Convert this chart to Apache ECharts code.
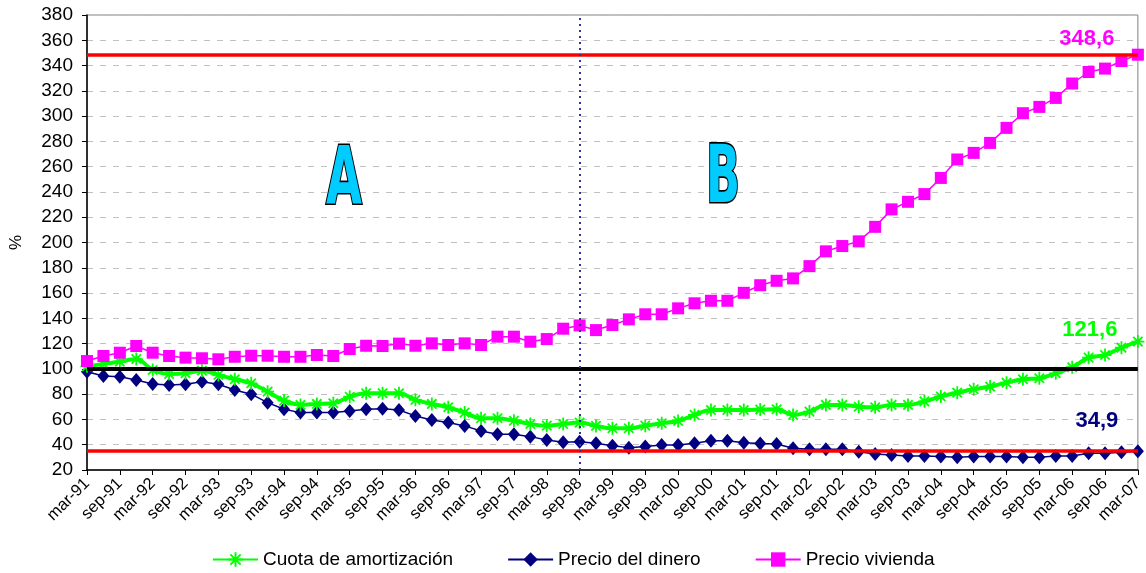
<!DOCTYPE html>
<html>
<head>
<meta charset="utf-8">
<script src="https://cdn.jsdelivr.net/npm/echarts@6/dist/echarts.min.js"></script>
<style>
  html, body { margin: 0; padding: 0; background: #fff; }
  #chart { width: 1146px; height: 573px; }
</style>
</head>
<body>
<div id="chart"></div>
<script>
// Quarterly index values, mar-91 = base
const categories = [
  'mar-91','jun-91','sep-91','dic-91','mar-92','jun-92','sep-92','dic-92',
  'mar-93','jun-93','sep-93','dic-93','mar-94','jun-94','sep-94','dic-94',
  'mar-95','jun-95','sep-95','dic-95','mar-96','jun-96','sep-96','dic-96',
  'mar-97','jun-97','sep-97','dic-97','mar-98','jun-98','sep-98','dic-98',
  'mar-99','jun-99','sep-99','dic-99','mar-00','jun-00','sep-00','dic-00',
  'mar-01','jun-01','sep-01','dic-01','mar-02','jun-02','sep-02','dic-02',
  'mar-03','jun-03','sep-03','dic-03','mar-04','jun-04','sep-04','dic-04',
  'mar-05','jun-05','sep-05','dic-05','mar-06','jun-06','sep-06','dic-06',
  'mar-07'
];

const cuotaAmortizacion = [
  102, 103.9, 105.7, 107.8, 99.1, 96, 96.5, 98.6,
  95.2, 91.8, 88.6, 82, 74.9, 71.5, 72.3, 72.8,
  78, 80.7, 80.7, 80.7, 75.5, 72.3, 69.6, 65.4,
  60.9, 60.9, 59, 56.4, 55.1, 56.4, 57.5, 54.9,
  53, 53, 55.1, 57, 58.8, 63.6, 67.5, 67.5,
  67.5, 67.8, 68.1, 63.6, 66.2, 71.5, 71.5, 70.1,
  69.6, 71.5, 71.5, 74.3, 78.2, 81.2, 83.9, 86,
  89.1, 91.8, 92.6, 96.5, 101.3, 108.9, 111, 116.8,
  121.6
];

const precioDinero = [
  97.8, 94.4, 93.8, 91.2, 88.1, 87.3, 87.8, 89.9,
  87.8, 83.3, 80, 73.3, 68.1, 65.4, 65.4, 65.4,
  66.7, 68.1, 68.5, 67.5, 62.8, 59.6, 57.5, 54.9,
  50.9, 48.3, 48.3, 46.4, 43.8, 42, 42.4, 41.2,
  39.1, 37.7, 38.5, 39.8, 39.8, 41.2, 43.2, 43.2,
  41.6, 40.9, 40.5, 37.2, 36.4, 36.4, 36.4, 34.5,
  32.7, 31.9, 31.1, 31.1, 30.6, 30.1, 30.6, 30.6,
  30.6, 30.1, 30.1, 31.1, 31.1, 33.3, 33.3, 34.1,
  34.9
];

const precioVivienda = [
  106.2, 110.2, 112.8, 118.1, 112.8, 110.2, 108.9, 108.4,
  107.6, 109.6, 110.4, 110.4, 109.6, 109.6, 111, 110.2,
  115.7, 118.3, 118.1, 120, 118.3, 120.2, 118.9, 120.2,
  118.9, 125.5, 125.5, 121.5, 123.6, 131.8, 134.4, 130.7,
  134.7, 139.2, 143.2, 143.2, 147.9, 151.9, 153.9, 153.9,
  160.2, 166.2, 169.7, 171.6, 181.3, 193, 197.2, 200.9,
  212.4, 226.2, 232.2, 238.3, 251.1, 265.7, 270.9, 278.8,
  290.7, 302.3, 307.3, 314.4, 325.8, 334.9, 337.6, 343.6,
  348.6
];

const seriesNames = ['Cuota de amortización', 'Precio del dinero', 'Precio vivienda'];
const yTicks = { min: 20, max: 380, interval: 20 };
const baseLevel = 100;
const periodDivider = 'sep-98';
const periodLetters = ['A', 'B'];

const GREEN = '#00FF00';
const NAVY = '#000080';
const MAGENTA = '#FF00FF';

// asterisk marker: vertical, horizontal and two diagonal strokes
const starPath = 'path://M0,-6L0,6M-6,0L6,0M-4.3,-4.3L4.3,4.3M-4.3,4.3L4.3,-4.3';

const fmtComma = v => String(v).replace('.', ',');

function lastLabel(color, offset) {
  return {
    show: true,
    position: 'inside',
    offset: offset,
    formatter: p => fmtComma(p.value),
    color: color,
    fontFamily: 'Liberation Sans, Arial, sans-serif',
    fontWeight: 'bold',
    fontSize: 22
  };
}

function withLastLabel(values, color, offset) {
  return values.map((v, i) => i === values.length - 1
    ? { value: v, label: lastLabel(color, offset) }
    : v);
}

const chart = echarts.init(document.getElementById('chart'), null, { renderer: 'canvas' });

const letterStyle = {
  fontFamily: 'DejaVu Sans', fontWeight: 'bold', fontSize: 80,
  fill: '#00CCFF', stroke: '#000', lineWidth: 3.2, align: 'center', verticalAlign: 'middle'
};

const option = {
  animation: false,
  backgroundColor: '#ffffff',
  textStyle: { fontFamily: 'Liberation Sans, Arial, sans-serif' },
  grid: {
    left: 86, right: 4, top: 15, bottom: 103,
    show: true, borderColor: '#808080', borderWidth: 1
  },
  legend: {
    bottom: -1,
    left: 207,
    itemGap: 54,
    itemWidth: 45,
    itemHeight: 18,
    textStyle: { fontSize: 19, color: '#000', fontFamily: 'Liberation Sans, Arial, sans-serif' },
    data: seriesNames
  },
  xAxis: {
    type: 'category',
    data: categories,
    boundaryGap: false,
    axisLine: { lineStyle: { color: '#000', width: 1.5 } },
    axisTick: { show: true, interval: 1, length: 5, lineStyle: { color: '#000' } },
    axisLabel: {
      interval: 1,
      rotate: 45,
      fontSize: 16.5,
      color: '#000',
      margin: 11
    },
    splitLine: { show: false }
  },
  yAxis: {
    type: 'value',
    min: yTicks.min,
    max: yTicks.max,
    interval: yTicks.interval,
    name: '%',
    nameLocation: 'middle',
    nameGap: 62,
    nameTextStyle: { fontSize: 17, color: '#000' },
    axisLine: { show: true, lineStyle: { color: '#000', width: 1.5 } },
    axisTick: { show: true, length: 5, lineStyle: { color: '#000' } },
    axisLabel: { fontSize: 19, color: '#000', margin: 14 },
    splitLine: { show: true, lineStyle: { color: '#c0c0c0', type: [6, 7], width: 1 } }
  },
  graphic: [
    {
      type: 'text', x: 344, y: 183, scaleX: 0.58, z: 10,
      style: Object.assign({ text: periodLetters[0] }, letterStyle)
    },
    {
      type: 'text', x: 723, y: 181, scaleX: 0.56, z: 10,
      style: Object.assign({ text: periodLetters[1] }, letterStyle)
    }
  ],
  series: [
    {
      name: seriesNames[0],
      type: 'line',
      z: 3,
      data: withLastLabel(cuotaAmortizacion, GREEN, [-48, -12]),
      smooth: 0.35,
      symbol: starPath,
      symbolSize: 13,
      showAllSymbol: true,
      lineStyle: { color: GREEN, width: 4 },
      itemStyle: { color: GREEN, borderColor: GREEN, borderWidth: 1.8 }
    },
    {
      name: seriesNames[1],
      type: 'line',
      z: 2,
      data: withLastLabel(precioDinero, NAVY, [-41, -30]),
      symbol: 'diamond',
      symbolSize: [12, 14],
      showAllSymbol: true,
      lineStyle: { color: NAVY, width: 1.5 },
      itemStyle: { color: NAVY },
      markLine: {
        silent: true,
        symbol: 'none',
        label: { show: false },
        data: [
          { yAxis: baseLevel, lineStyle: { color: '#000', width: 4, type: 'solid' } },
          { yAxis: precioVivienda[precioVivienda.length - 1], lineStyle: { color: '#FF0000', width: 3.5, type: 'solid' } },
          { yAxis: precioDinero[precioDinero.length - 1], lineStyle: { color: '#FF0000', width: 3.5, type: 'solid' } },
          { xAxis: periodDivider, lineStyle: { color: '#333399', width: 2, type: [2, 4] } }
        ]
      }
    },
    {
      name: seriesNames[2],
      type: 'line',
      z: 4,
      data: withLastLabel(precioVivienda, MAGENTA, [-51, -16]),
      symbol: 'rect',
      symbolSize: 12,
      showAllSymbol: true,
      lineStyle: { color: MAGENTA, width: 1.5 },
      itemStyle: { color: MAGENTA }
    }
  ]
};

chart.setOption(option);
</script>
</body>
</html>
